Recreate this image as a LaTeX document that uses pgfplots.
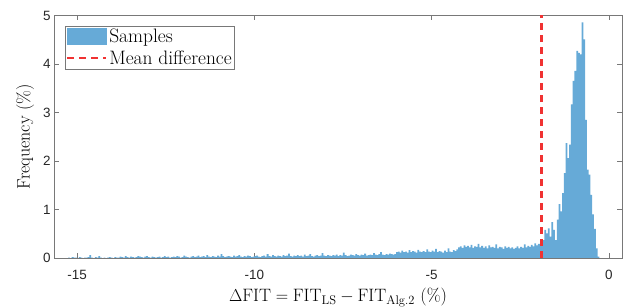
\documentclass[border=0pt]{standalone}
\usepackage{fontspec}
\usepackage{pgfplots}
\pgfplotsset{compat=1.18}
\newfontfamily\ticksf{Liberation Sans}
\definecolor{histblue}{RGB}{102,170,215}
\definecolor{meanred}{RGB}{240,50,50}
\definecolor{axgray}{RGB}{120,120,120}
\begin{document}
\begin{tikzpicture}
\useasboundingbox (0,0) rectangle (634bp,307bp);
\begin{axis}[
  at={(54bp,49bp)}, anchor=south west,
  scale only axis, width=568bp, height=242.5bp,
  xmin=-15.65, xmax=0.37, ymin=0, ymax=5,
  axis line style={axgray, line width=0.6bp},
  tick style={axgray, line width=0.6bp},
  tick align=inside, tick pos=both, major tick length=5bp,
  xtick={-15,-10,-5,0}, xticklabels={-15,-10,-5,0},
  ytick={0,1,2,3,4,5}, yticklabels={0,1,2,3,4,5},
  ticklabel style={font=\ticksf\fontsize{13.5}{16}\selectfont, text=black!85},
  xticklabel style={yshift=-9bp},
  xlabel={$\Delta\mathrm{FIT}=\mathrm{FIT}_{\mathrm{LS}}-\mathrm{FIT}_{\mathrm{Alg.2}}$ (\%)},
  ylabel={Frequency (\%)},
  label style={font=\fontsize{18}{21}\selectfont},
  xlabel style={at={(axis description cs:0.5,-0.178)}, anchor=base},
  ylabel style={at={(axis description cs:-0.051,0.5)}, anchor=center},
  legend style={at={(axis description cs:0.0194,0.957)}, anchor=north west,
    draw=axgray, line width=0.6bp, font=\fontsize{19.5}{22.5}\selectfont,
    inner sep=1bp, nodes={inner sep=2bp}, row sep=2.5bp},
  legend cell align=left,
]
\addplot[fill=histblue, draw=none, const plot mark left, forget plot]
coordinates {
(-15.25,0.01) (-15.20,0) (-15.15,0.02) (-15.10,0.01) (-15.05,0.01) (-15.00,0) (-14.95,0.02) (-14.90,0.01) (-14.85,0) (-14.80,0.01)
(-14.75,0.01) (-14.70,0.02) (-14.65,0.06) (-14.60,0.01) (-14.55,0) (-14.50,0.02) (-14.45,0.01) (-14.40,0.04) (-14.35,0.01) (-14.30,0)
(-14.25,0.01) (-14.20,0) (-14.15,0.01) (-14.10,0.02) (-14.05,0.01) (-14.00,0) (-13.95,0.02) (-13.90,0.01) (-13.85,0.01) (-13.80,0.03)
(-13.75,0.02) (-13.70,0.01) (-13.65,0.04) (-13.60,0.02) (-13.55,0.01) (-13.50,0.03) (-13.45,0.02) (-13.40,0.01) (-13.35,0.02) (-13.30,0.04)
(-13.25,0.03) (-13.20,0.02) (-13.15,0.01) (-13.10,0.03) (-13.05,0.04) (-13.00,0.02) (-12.95,0.01) (-12.90,0.03) (-12.85,0.02) (-12.80,0.01)
(-12.75,0.02) (-12.70,0.03) (-12.65,0.01) (-12.60,0.02) (-12.55,0.04) (-12.50,0.02) (-12.45,0.03) (-12.40,0.01) (-12.35,0.02) (-12.30,0.03)
(-12.25,0.02) (-12.20,0.04) (-12.15,0.03) (-12.10,0.01) (-12.05,0.02) (-12.00,0.05) (-11.95,0.03) (-11.90,0.02) (-11.85,0.01) (-11.80,0.03)
(-11.75,0.04) (-11.70,0.02) (-11.65,0.03) (-11.60,0.05) (-11.55,0.02) (-11.50,0.03) (-11.45,0.04) (-11.40,0.02) (-11.35,0.06) (-11.30,0.03)
(-11.25,0.02) (-11.20,0.04) (-11.15,0.03) (-11.10,0.02) (-11.05,0.05) (-11.00,0.03) (-10.95,0.08) (-10.90,0.04) (-10.85,0.02) (-10.80,0.03)
(-10.75,0.04) (-10.70,0.03) (-10.65,0.02) (-10.60,0.05) (-10.55,0.03) (-10.50,0.04) (-10.45,0.06) (-10.40,0.03) (-10.35,0.02) (-10.30,0.04)
(-10.25,0.03) (-10.20,0.05) (-10.15,0.04) (-10.10,0.02) (-10.05,0.03) (-10.00,0.04) (-9.95,0.05) (-9.90,0.03) (-9.85,0.02) (-9.80,0.04)
(-9.75,0.05) (-9.70,0.03) (-9.65,0.08) (-9.60,0.04) (-9.55,0.03) (-9.50,0.06) (-9.45,0.04) (-9.40,0.03) (-9.35,0.05) (-9.30,0.04)
(-9.25,0.03) (-9.20,0.06) (-9.15,0.04) (-9.10,0.05) (-9.05,0.09) (-9.00,0.04) (-8.95,0.03) (-8.90,0.05) (-8.85,0.04) (-8.80,0.06)
(-8.75,0.04) (-8.70,0.05) (-8.65,0.03) (-8.60,0.07) (-8.55,0.04) (-8.50,0.05) (-8.45,0.08) (-8.40,0.04) (-8.35,0.03) (-8.30,0.05)
(-8.25,0.06) (-8.20,0.04) (-8.15,0.05) (-8.10,0.10) (-8.05,0.05) (-8.00,0.04) (-7.95,0.06) (-7.90,0.05) (-7.85,0.04) (-7.80,0.06)
(-7.75,0.05) (-7.70,0.07) (-7.65,0.04) (-7.60,0.06) (-7.55,0.05) (-7.50,0.11) (-7.45,0.06) (-7.40,0.04) (-7.35,0.05) (-7.30,0.07)
(-7.25,0.06) (-7.20,0.05) (-7.15,0.08) (-7.10,0.06) (-7.05,0.05) (-7.00,0.07) (-6.95,0.06) (-6.90,0.09) (-6.85,0.05) (-6.80,0.06)
(-6.75,0.07) (-6.70,0.06) (-6.65,0.10) (-6.60,0.07) (-6.55,0.06) (-6.50,0.08) (-6.45,0.12) (-6.40,0.07) (-6.35,0.06) (-6.30,0.08)
(-6.25,0.07) (-6.20,0.09) (-6.15,0.08) (-6.10,0.07) (-6.05,0.08) (-6.00,0.12) (-5.95,0.13) (-5.90,0.11) (-5.85,0.15) (-5.80,0.12)
(-5.75,0.13) (-5.70,0.11) (-5.65,0.16) (-5.60,0.12) (-5.55,0.14) (-5.50,0.13) (-5.45,0.11) (-5.40,0.17) (-5.35,0.13) (-5.30,0.12)
(-5.25,0.14) (-5.20,0.12) (-5.15,0.18) (-5.10,0.13) (-5.05,0.12) (-5.00,0.15) (-4.95,0.13) (-4.90,0.19) (-4.85,0.12) (-4.80,0.14)
(-4.75,0.13) (-4.70,0.11) (-4.65,0.15) (-4.60,0.12) (-4.55,0.20) (-4.50,0.13) (-4.45,0.12) (-4.40,0.16) (-4.35,0.14) (-4.30,0.18)
(-4.25,0.22) (-4.20,0.24) (-4.15,0.21) (-4.10,0.26) (-4.05,0.23) (-4.00,0.25) (-3.95,0.22) (-3.90,0.27) (-3.85,0.21) (-3.80,0.24)
(-3.75,0.23) (-3.70,0.29) (-3.65,0.22) (-3.60,0.25) (-3.55,0.21) (-3.50,0.24) (-3.45,0.20) (-3.40,0.26) (-3.35,0.22) (-3.30,0.23)
(-3.25,0.21) (-3.20,0.28) (-3.15,0.20) (-3.10,0.23) (-3.05,0.22) (-3.00,0.19) (-2.95,0.24) (-2.90,0.21) (-2.85,0.23) (-2.80,0.20)
(-2.75,0.22) (-2.70,0.19) (-2.65,0.21) (-2.60,0.24) (-2.55,0.20) (-2.50,0.23) (-2.45,0.21) (-2.40,0.28) (-2.35,0.22) (-2.30,0.25)
(-2.25,0.23) (-2.20,0.27) (-2.15,0.24) (-2.10,0.30) (-2.05,0.26) (-2.00,0.29)
(-1.92,0.37) (-1.87,0.37) (-1.82,0.58) (-1.77,0.51) (-1.72,0.61) (-1.67,0.44) (-1.62,0.74) (-1.57,0.58) (-1.52,0.37) (-1.47,0.79)
(-1.42,1.11) (-1.37,0.96) (-1.32,1.34) (-1.27,1.75) (-1.22,2.37) (-1.17,2.06) (-1.12,2.34) (-1.07,3.17) (-1.02,3.65) (-0.97,3.86)
(-0.92,4.27) (-0.87,4.23) (-0.82,4.20) (-0.77,4.86) (-0.72,4.51) (-0.67,2.85) (-0.62,1.82) (-0.57,1.72) (-0.52,1.30) (-0.47,0.90)
(-0.42,0.60) (-0.37,0.20) (-0.32,0.03) (-0.27,0)
} \closedcycle;
\addplot[forget plot, mark=none, color=meanred, line width=2.2bp, dash pattern=on 7bp off 5bp]
coordinates {(-1.9,0) (-1.9,5)};
\addlegendimage{legend image code/.code={\fill[histblue] (0bp,-8bp) rectangle (39bp,8bp);}}
\addlegendentry{Samples}
\addlegendimage{legend image code/.code={\draw[meanred, line width=2bp, dash pattern=on 7bp off 5bp] (0bp,0bp) -- (39bp,0bp);}}
\addlegendentry{Mean difference}
\end{axis}
\end{tikzpicture}
\end{document}
